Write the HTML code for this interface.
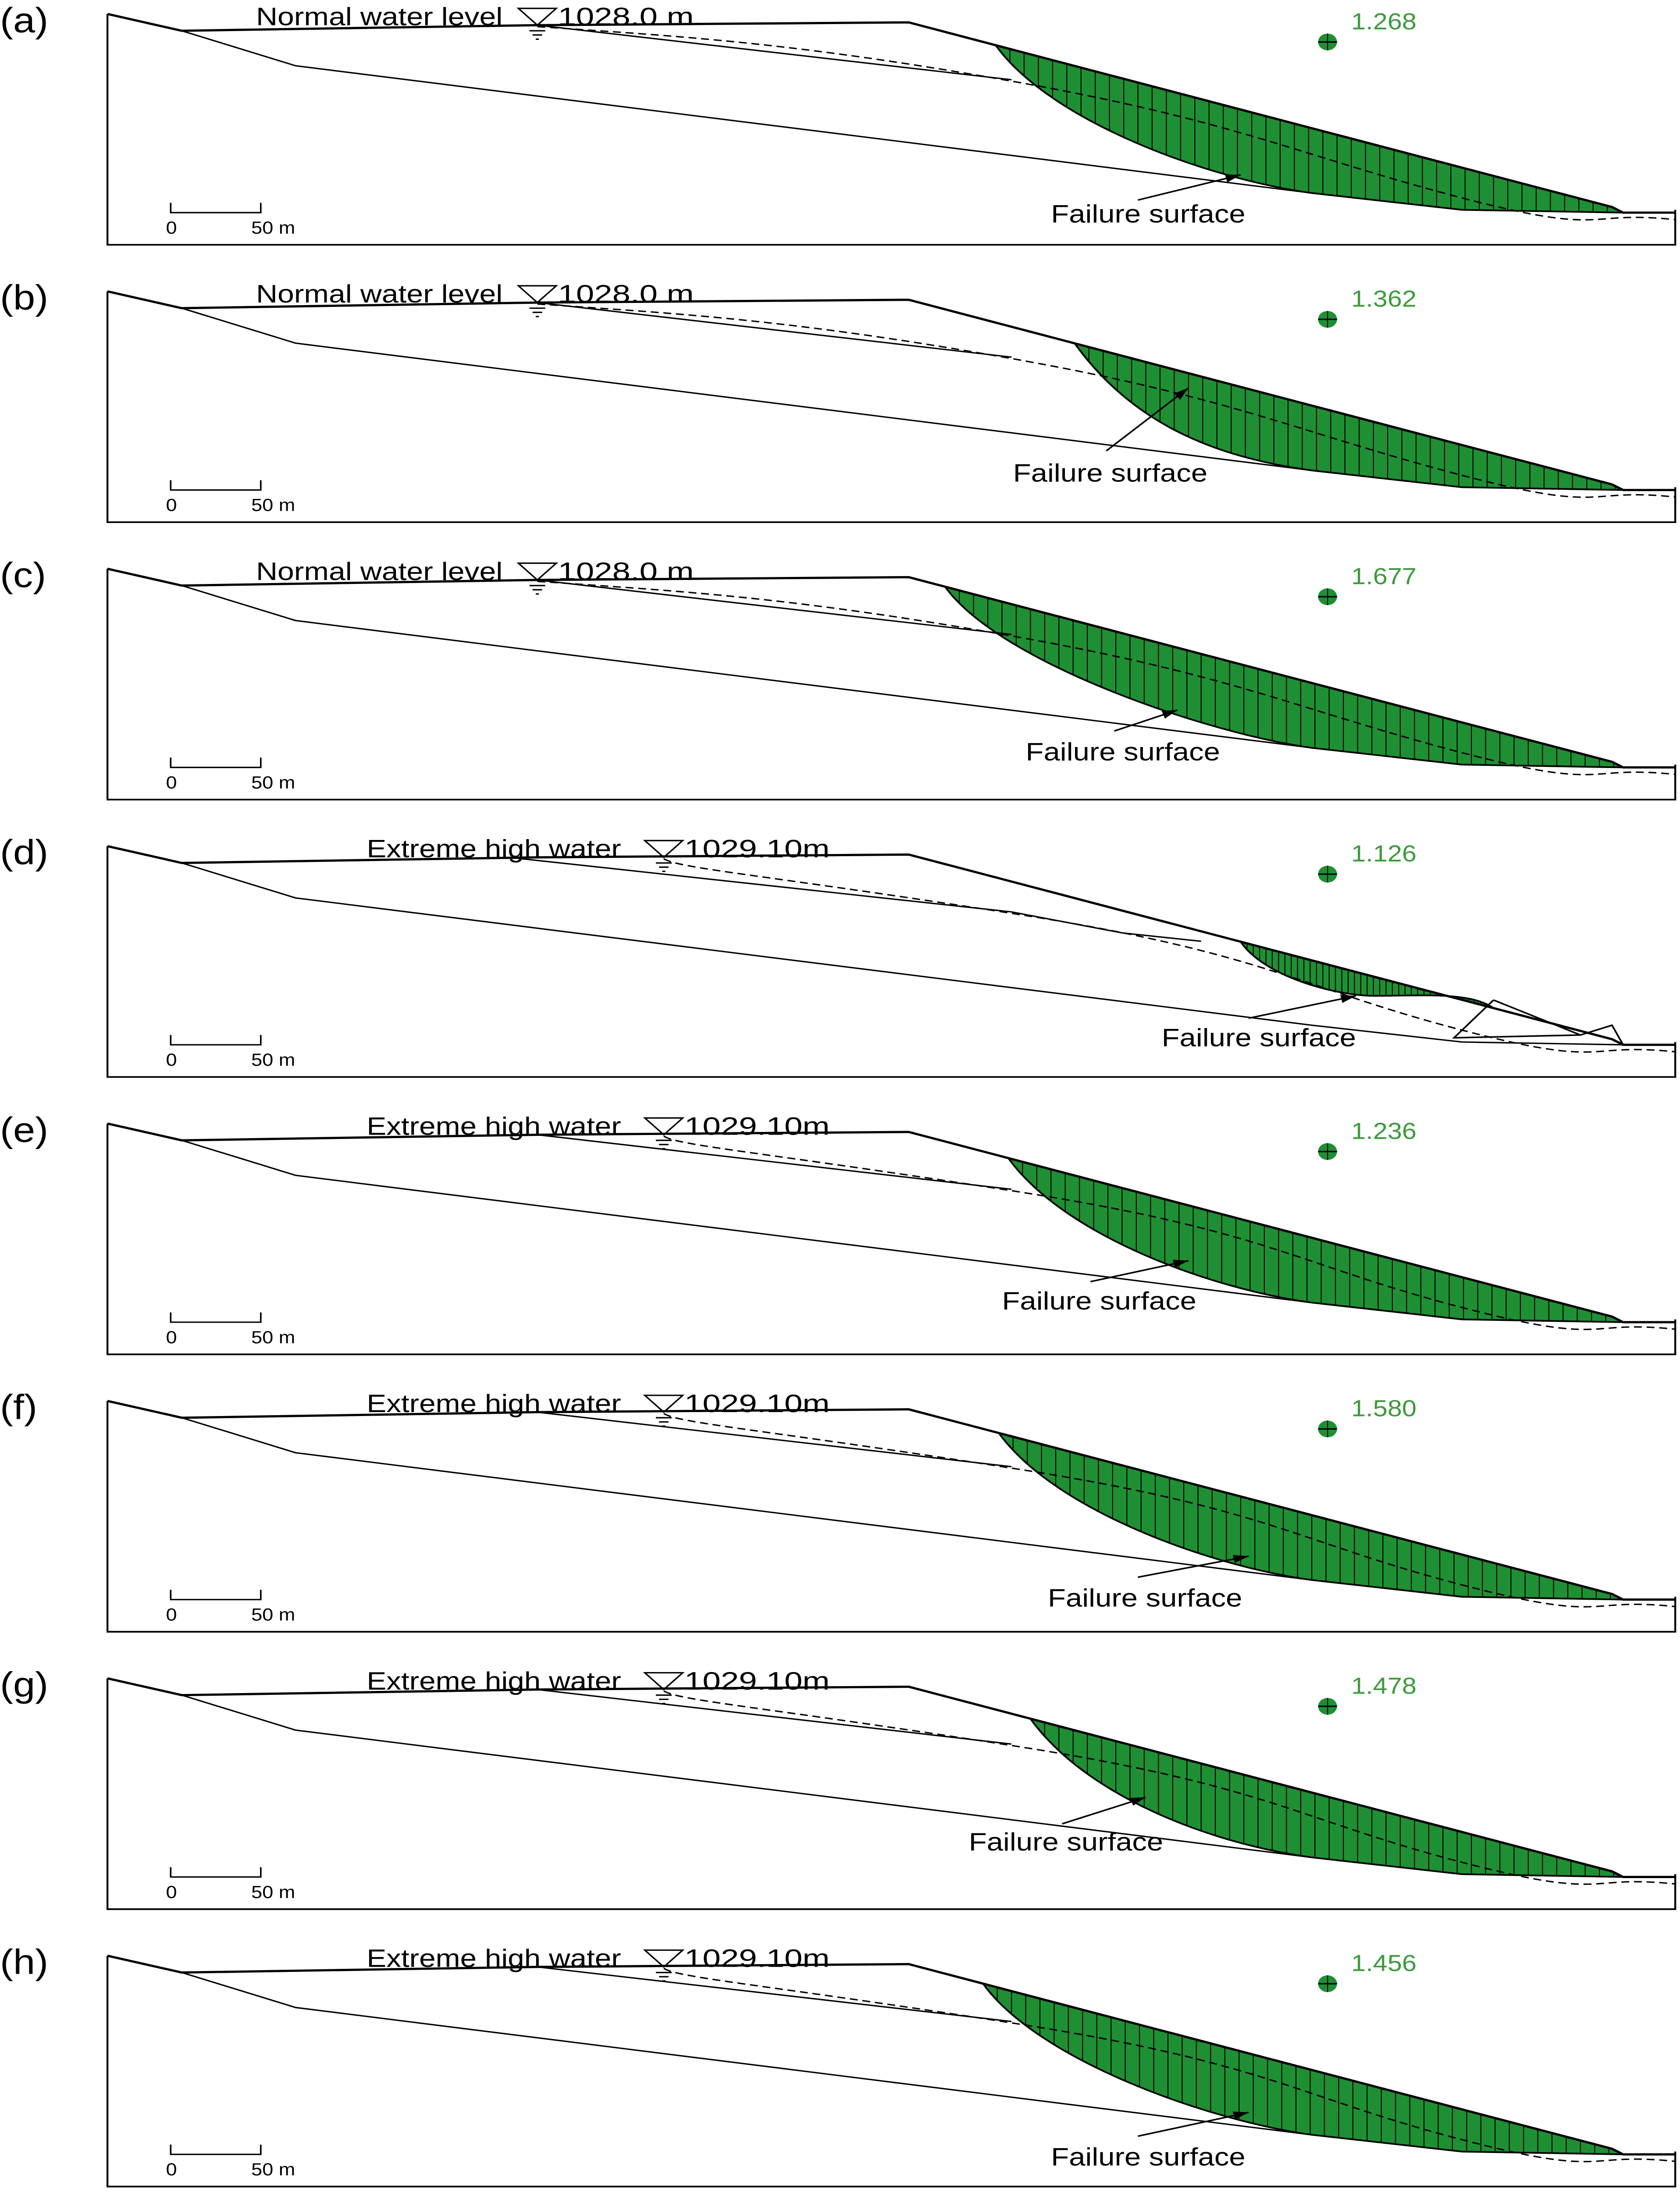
<!DOCTYPE html>
<html><head><meta charset="utf-8"><style>
html,body{margin:0;padding:0;background:#fff;width:100%;height:100%;overflow:hidden}
svg{display:block;position:absolute;left:0;top:0;width:100vw;height:100vh}
text{font-family:"Liberation Sans",Arial,sans-serif}
</style></head><body>
<svg id="fig" viewBox="0 0 1063 1567" preserveAspectRatio="none" xmlns="http://www.w3.org/2000/svg">
<defs></defs>
</svg>
<script>
const panelLabels = ['(a)','(b)','(c)','(d)','(e)','(f)','(g)','(h)'];
const fsValues = ['1.268','1.362','1.677','1.126','1.236','1.580','1.478','1.456'];
const slipStartX = [630,680,598,785,638,632,652,622];
const waterLabels = ['Normal water level','Normal water level','Normal water level','Extreme high water','Extreme high water','Extreme high water','Extreme high water','Extreme high water'];
const waterElev = ['1028.0 m','1028.0 m','1028.0 m','1029.10m','1029.10m','1029.10m','1029.10m','1029.10m'];
const failTextX = [665,641,649,735,634,663,613,665];
const failTextY = [159,146,147,153,143,157,133,160];
const arrowTailX = [720,700,705,790,690,720,672,720];
const arrowTailY = [143,124,126,133,123,136,114,139];
const arrowTipX = [785,752,745,858,752,790,725,790];
const arrowTipY = [125,79,111,117,108,121,95,122];

const NS='http://www.w3.org/2000/svg';
const svg=document.getElementById('fig');
const defs=svg.querySelector('defs');
function mk(tag,attrs,parent){const e=document.createElementNS(NS,tag);for(const k in attrs)e.setAttribute(k,attrs[k]);(parent||svg).appendChild(e);return e;}
function slopeY(x){return 16+(x-575)*(132/445);}

panelLabels.forEach((lab,i)=>{
  const oy=i*198.3;
  const g=mk('g',{transform:`translate(0,${oy})`});
  
  
  const isD = i===3;
  const fr=mk('path',{d:'M68 10 L68 175 L1060 175 L1060 150',fill:'none',stroke:'#000','stroke-width':1.2},g);
  
  
  const x0=slipStartX[i], y0=slopeY(x0);
  let slipD;
  if(isD){
    slipD=`M${x0} ${y0} C ${x0+15} ${y0+25} 845 117 870 117 C 900 117 930 114 945 ${slopeY(945)} Z`;
  } else {
    slipD=`M${x0} ${y0} C ${x0+35} ${y0+55} 765 128 830 138 L 925 150 L 1027 152 L 1020 148 Z`;
  }
  const cid='clip'+i;
  const cp=mk('clipPath',{id:cid},defs);
  mk('path',{d:slipD},cp);
  const slip=mk('path',{d:slipD,fill:'#1f8f34',stroke:'#000','stroke-width':1.2},g);
  
  
  const sl=mk('g',{'clip-path':`url(#${cid})`},g);
  const step=isD?4:9;
  for(let x=x0+step;x<1025;x+=step){
    const l=mk('line',{x1:x,y1:10,x2:x,y2:160,stroke:'#000','stroke-width':0.6},sl);
    
    
  }
  const gs=mk('path',{d:'M68 10 L115 22 L340 18 L575 16 L1020 148 L1027 152 L1060 152',fill:'none',stroke:'#000','stroke-width':1.6},g);
  
  
  const l1=mk('path',{d:'M115 22 L187 47 L830 138 L925 150 L1027 152',fill:'none',stroke:'#000','stroke-width':1},g);
  
  
  const l2=mk('path',{d:isD?'M322 18 L640 57 L710 72 L760 78':'M340 18 L640 57',fill:'none',stroke:'#000','stroke-width':1},g);
  
  
  const wx=i<3?340:420;
  const wt=mk('path',{d:`M${wx} 19 C 430 26 ${i<3?500:480} 30 640 58 S 820 110 920 140 S 1000 150 1060 157`,fill:'none',stroke:'#000','stroke-width':1,'stroke-dasharray':'5,3'},g);
  
  
  if(isD){
    const t=mk('path',{d:'M945 120 L920 147 L1000 145 L945 120 M1000 145 L1020 138 L1027 152',fill:'none',stroke:'#000','stroke-width':1.1},g);
    
    
  }
  const tx=i<3?162:232, trx=i<3?328:408;
  const wl=mk('text',{x:tx,y:18,'font-size':18,textLength:i<3?156:161,lengthAdjust:'spacingAndGlyphs'},g); wl.textContent=waterLabels[i];
  
  
  const tri=mk('path',{d:`M${trx} 6 L${trx+24} 6 L${trx+12} 18 Z M${trx+7} 22 L${trx+17} 22 M${trx+9} 25 L${trx+15} 25 M${trx+11} 28 L${trx+13} 28`,fill:'none',stroke:'#000','stroke-width':1},g);
  
  
  const we=mk('text',{x:trx+25,y:18,'font-size':18,textLength:i<3?86:92,lengthAdjust:'spacingAndGlyphs'},g); we.textContent=waterElev[i];
  
  
  const pl=mk('text',{x:0,y:23,'font-size':25},g); pl.textContent=lab;
  
  
  const fs=mk('text',{x:855,y:21,'font-size':16.5,fill:'#3c9b3c'},g); fs.textContent=fsValues[i];
  
  
  const dot=mk('circle',{cx:840,cy:30,r:6,fill:'#1f8f34'},g);
  
  
  mk('line',{x1:834,y1:30,x2:846,y2:30,stroke:'#000','stroke-width':1},g);
  mk('line',{x1:840,y1:24,x2:840,y2:36,stroke:'#000','stroke-width':0.6},g);
  const sb=mk('path',{d:'M108 145 L108 152 L165 152 L165 145',fill:'none',stroke:'#000','stroke-width':1},g);
  
  
  const s0=mk('text',{x:105,y:167,'font-size':12.5},g); s0.textContent='0';
  
  
  const s1=mk('text',{x:159,y:167,'font-size':12.5},g); s1.textContent='50 m';
  
  
  const ft=mk('text',{x:failTextX[i],y:failTextY[i],'font-size':18,textLength:123,lengthAdjust:'spacingAndGlyphs'},g); ft.textContent='Failure surface';
  
  
  const ax=arrowTailX[i], ay=arrowTailY[i], bx=arrowTipX[i], by=arrowTipY[i];
  const ang=Math.atan2(by-ay,bx-ax), L=10;
  const ar=mk('line',{x1:ax,y1:ay,x2:bx,y2:by,stroke:'#000','stroke-width':1.1},g);
  
  
  mk('path',{d:`M${bx} ${by} L${bx-L*Math.cos(ang-0.3)} ${by-L*Math.sin(ang-0.3)} L${bx-L*Math.cos(ang+0.3)} ${by-L*Math.sin(ang+0.3)} Z`,fill:'#000'},g);
});
</script>
</body></html>
